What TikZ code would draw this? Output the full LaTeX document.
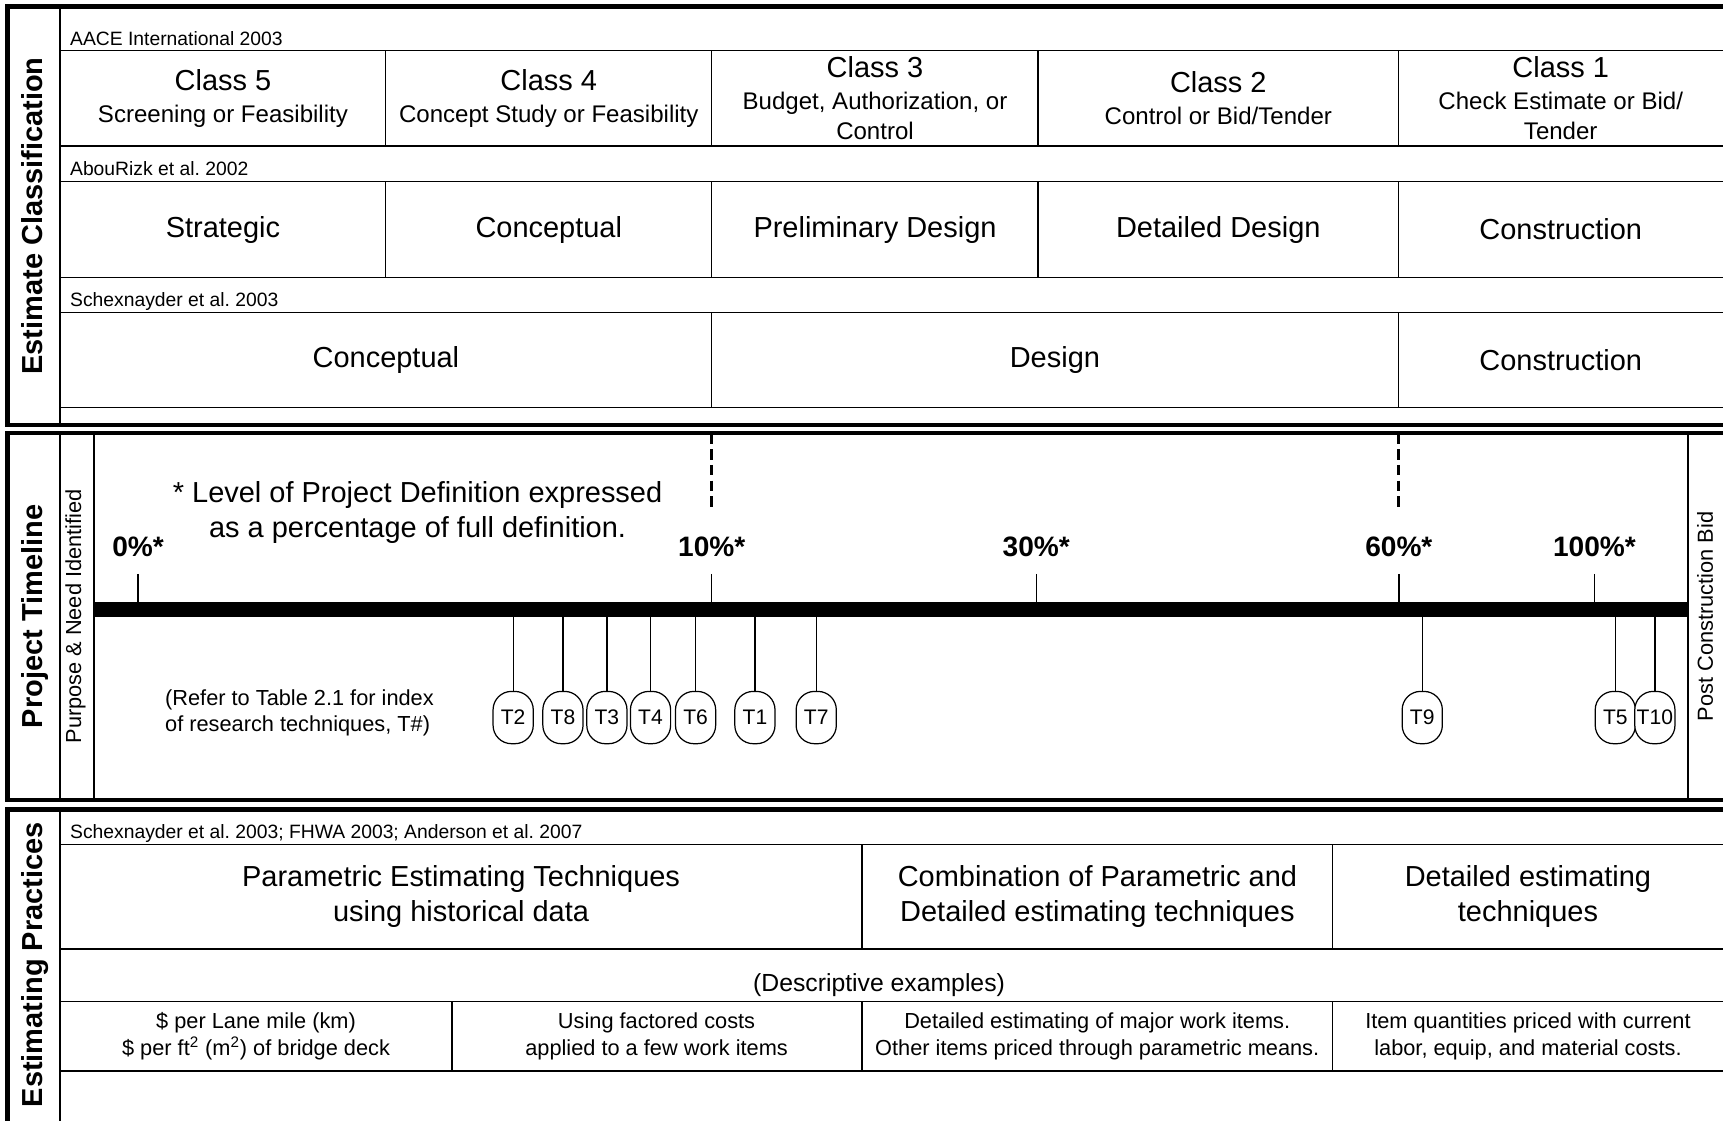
\documentclass[tikz,border=0pt]{standalone}
\usepackage{fontspec}
\setmainfont{Liberation Sans}
\usetikzlibrary{positioning}
\newcommand\szbig{\fontsize{16.5}{20}\selectfont}
\newcommand\szsub{\fontsize{13.7}{16.9}\selectfont}
\newcommand\szmid{\fontsize{12.4}{15}\selectfont}
\newcommand\szsml{\fontsize{11}{13}\selectfont}
\tikzset{
  frame/.style={line width=2.5pt},
  rule/.style={line width=0.85pt},
  divd/.style={line width=1.4pt},
  tick/.style={line width=0.8pt},
  tline/.style={line width=0.75pt},
  dline/.style={line width=1.5pt,dash pattern=on 6pt off 3pt},
  bar/.style={line width=8.6pt},
  cite/.style={font=\szsml,anchor=base west,inner sep=0pt},
  cls/.style={font=\szsub,align=center,inner sep=0pt},
  cell/.style={font=\szbig,align=center,inner sep=0pt},
  ex/.style={font=\szmid,align=center,inner sep=0pt},
  vlab/.style={rotate=90,anchor=base,font=\bfseries\szbig,inner sep=0pt},
  slab/.style={rotate=90,anchor=base,font=\szmid,inner sep=0pt},
  pct/.style={anchor=base,font=\bfseries\fontsize{16}{19}\selectfont,inner sep=0pt},
  tcap/.style={draw,fill=white,line width=0.7pt,rounded corners=10.5pt,
    minimum width=22.9pt,minimum height=29.8pt,inner sep=0pt,
    font=\fontsize{12}{14}\selectfont},
}
\begin{document}
\begin{tikzpicture}[x=0.022cm,y=-0.022cm]
  \useasboundingbox (0,0) rectangle (1568,1020);
  \clip (0,0) rectangle (1568,1020);
  \def\R{1580}% frames run past the right edge
  % ---- three panels ----
  \draw[frame] (7,6) rectangle (\R,386.8);
  \draw[frame] (7,394.3) rectangle (\R,728);
  \draw[frame] (7,736.5) rectangle (\R,1040);
  \draw[rule] (54.7,6) -- (54.7,386.8);
  \draw[rule] (54.7,736.5) -- (54.7,1040);
  \draw[divd] (54.7,394.3) -- (54.7,728) (85.3,394.3) -- (85.3,728)
    (1536,394.3) -- (1536,728);
  \node[vlab] (lblEC) at (38.5,196.5) {Estimate Classification};
  \node[vlab] (lblPT) at (38.5,561) {Project Timeline};
  \node[vlab] (lblEP) at (38.5,878) {Estimating Practices};

  % ---- estimate classification ----
  \foreach \y in {46.1,132.9,165.3,252.4,284.2,370.7}
    \draw[rule] (54.7,\y) -- (\R,\y);
  \foreach \x in {351,647.7,944.8,1272.6}{
    \draw[rule] (\x,46.1) -- (\x,132.9);
    \draw[rule] (\x,165.3) -- (\x,252.4);
  }
  \foreach \x in {647.7,1272.6}
    \draw[rule] (\x,284.2) -- (\x,370.7);
  \node[cite] (citeA) at (63.5,41) {AACE International 2003};
  \node[cite] (citeB) at (63.5,160) {AbouRizk et al.\ 2002};
  \node[cite] (citeC) at (63.5,279) {Schexnayder et al.\ 2003};
  \node[cls] (c5) at (202.9,89.5) {\szbig Class 5\\[1.3pt]Screening or Feasibility};
  \node[cls] (c4) at (499.4,89.5) {\szbig Class 4\\[1.3pt]Concept Study or Feasibility};
  \node[cls] (c3) at (796.3,89.5) {\szbig Class 3\\[1.3pt]Budget, Authorization, or\\Control};
  \node[cls] (c2) at (1108.7,89.5) {\szbig Class 2\\[1.3pt]Control or Bid/Tender};
  \node[cls] (c1) at (1420.3,89.5) {\szbig Class 1\\[1.3pt]Check Estimate or Bid/\\Tender};
  \node[cell] (a1) at (202.9,208.9) {Strategic};
  \node[cell] (a2) at (499.4,208.9) {Conceptual};
  \node[cell] (a3) at (796.3,208.9) {Preliminary Design};
  \node[cell] (a4) at (1108.7,208.9) {Detailed Design};
  \node[cell] (a5) at (1420.3,208.9) {Construction};
  \node[cell] (s1) at (351.2,327.5) {Conceptual};
  \node[cell] (s2) at (960,327.5) {Design};
  \node[cell] (s3) at (1420.3,327.5) {Construction};

  % ---- project timeline ----
  \node[slab] (lblPN) at (73.8,561) {Purpose \& Need Identified};
  \node[slab] (lblPC) at (1558.8,561) {Post Construction Bid};
  \foreach \x in {647.7,1272.6}
    \draw[dline] (\x,394.3) -- (\x,464.7);
  \node[cell] (note) at (380,466) {* Level of Project Definition expressed\\as a percentage of full definition.};
  \node[ex,anchor=west,align=left] (refer) at (150,649)
    {(Refer to Table 2.1 for index\\of research techniques, T\#)};
  \coordinate (barL) at (85.3,554.35);
  \coordinate (barR) at (1536,554.35);
  \draw[bar] (barL) -- (barR);
  \foreach \x/\p in {125.7/0,647.7/10,943/30,1273/60,1451/100}{
    \node[pct] (p\p) at (\x,506) {\p\%*};
    \draw[tick] (\x,522.3) -- (\x,547.5);
  }
  % technique markers hang below the bar
  \foreach \x/\t in {467/T2,512.3/T8,552.3/T3,592/T4,633/T6,687/T1,742.8/T7,
                     1294.3/T9,1470/T5,1506/T10}{
    \node[tcap] (\t) at (\x,653) {\t};
    \draw[tline] (\t.north) -- (\t.north |- barL);
  }

  % ---- estimating practices ----
  \foreach \y in {768.3,863.6,911.5,974.6}
    \draw[rule] (54.7,\y) -- (\R,\y);
  \foreach \x in {784.6,1212.8}
    \draw[rule] (\x,768.3) -- (\x,863.6);
  \foreach \x in {411.3,784.6,1212.8}
    \draw[rule] (\x,911.5) -- (\x,974.6);
  \node[cite] (citeD) at (63.5,763) {Schexnayder et al.\ 2003; FHWA 2003; Anderson et al.\ 2007};
  \node[cell] (m1) at (419.6,816) {Parametric Estimating Techniques\\using historical data};
  \node[cell] (m2) at (998.7,816) {Combination of Parametric and\\Detailed estimating techniques};
  \node[cell] (m3) at (1390.5,816) {Detailed estimating\\techniques};
  \node[inner sep=0pt,font=\fontsize{14.1}{17}\selectfont] (desc) at (800,896.4) {(Descriptive examples)};
  \node[ex] (e1) at (233,943) {\$ per Lane mile (km)\\\$ per ft\textsuperscript{2} (m\textsuperscript{2}) of bridge deck};
  \node[ex] (e2) at (597.5,943) {Using factored costs\\applied to a few work items};
  \node[ex] (e3) at (998.5,943) {Detailed estimating of major work items.\\Other items priced through parametric means.};
  \node[ex] (e4) at (1390.5,943) {Item quantities priced with current\\labor, equip, and material costs.};
\end{tikzpicture}
\end{document}
